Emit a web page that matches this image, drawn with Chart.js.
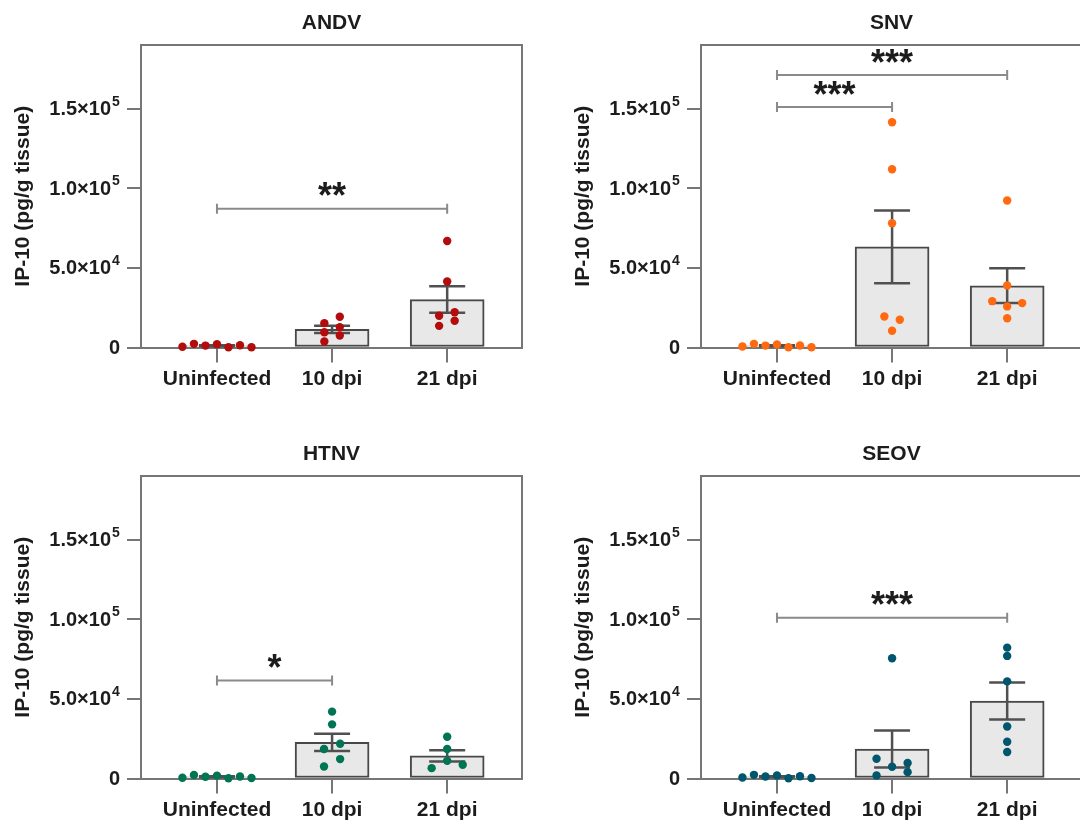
<!DOCTYPE html>
<html>
<head>
<meta charset="utf-8">
<script src="https://cdn.jsdelivr.net/npm/chart.js@4/dist/chart.umd.min.js"></script>
<style>
    html, body { margin: 0; padding: 0; background: #fff; width: 1080px; height: 820px; overflow: hidden; position: relative; }
    .panel { position: absolute; width: 560px; height: 431px; }
</style>
</head>
<body>
<div class="panel" style="left:0;top:0"><canvas id="andv" width="560" height="431"></canvas></div>
<div class="panel" style="left:560px;top:0"><canvas id="snv" width="560" height="431"></canvas></div>
<div class="panel" style="left:0;top:431px"><canvas id="htnv" width="560" height="431"></canvas></div>
<div class="panel" style="left:560px;top:431px"><canvas id="seov" width="560" height="431"></canvas></div>
<script>
// categories and axis ticks
const categories = ['Uninfected', '10 dpi', '21 dpi'];
const yTicks = [0, 50000, 100000, 150000];
const yTickBase = ['0', '5.0×10', '1.0×10', '1.5×10'];
const yTickExp = ['', '4', '5', '5'];
const yTitle = 'IP-10 (pg/g tissue)';

// horizontal spread of the dots (category units)
const uninfOffsets = [-0.3, -0.2, -0.1, 0, 0.1, 0.2, 0.3];

// ANDV
const andvMeans = [1100, 11400, 30100];
const andvSem = [300, 2300, 8300];
const andvUninf = [500, 2300, 1200, 2000, 200, 1400, 200];
const andvDpi10 = [15300, 19300, 12800, 9600, 7500, 3800];
const andvDpi10Off = [-0.067, 0.067, 0.067, -0.067, 0.067, -0.067];
const andvDpi21 = [66900, 41500, 19900, 22200, 16800, 13600];
const andvDpi21Off = [0, 0, -0.07, 0.065, 0.065, -0.07];

// SNV
const snvMeans = [1100, 63200, 38800];
const snvSem = [300, 22900, 10900];
const snvUninf = [600, 2300, 1200, 1900, 200, 1300, 200];
const snvDpi10 = [141500, 112000, 78000, 19500, 17400, 10500];
const snvDpi10Off = [0, 0, 0, -0.067, 0.067, 0];
const snvDpi21 = [92300, 39000, 29100, 27900, 25800, 18400];
const snvDpi21Off = [0, 0, -0.13, 0.13, 0, 0];

// HTNV
const htnvMeans = [1100, 22700, 14200];
const htnvSem = [300, 5400, 3600];
const htnvUninf = [500, 2200, 1100, 1800, 200, 1300, 300];
const htnvDpi10 = [42000, 34000, 21800, 18500, 12200, 7500];
const htnvDpi10Off = [0, 0, 0.07, -0.07, 0.07, -0.07];
const htnvDpi21 = [26200, 18500, 11100, 6500, 8600];
const htnvDpi21Off = [0, 0, 0, -0.135, 0.135];

// SEOV
const seovMeans = [1100, 18500, 48700];
const seovSem = [300, 11600, 11600];
const seovUninf = [600, 2300, 1300, 1900, 200, 1400, 300];
const seovDpi10 = [75500, 12400, 9700, 7400, 4000, 1900];
const seovDpi10Off = [0, -0.135, 0.135, 0, 0.135, -0.135];
const seovDpi21 = [82200, 77000, 61000, 32700, 23100, 16600];
const seovDpi21Off = [0, 0, 0, 0, 0, 0];

// significance brackets
const andvSig = [{ from: 0, to: 2, y: 87200, label: '**' }];
const snvSig = [{ from: 0, to: 1, y: 151000, label: '***' }, { from: 0, to: 2, y: 171100, label: '***' }];
const htnvSig = [{ from: 0, to: 1, y: 61500, label: '*' }];
const seovSig = [{ from: 0, to: 2, y: 100900, label: '***' }];

const FONT = "'Liberation Sans', Arial, Helvetica, sans-serif";
const AXIS = '#767676';
const INK = '#1c1c1c';

function toPoints(groups) {
    const pts = [];
    groups.forEach(g => g.values.forEach((v, i) => pts.push({ x: g.cat + g.off[i], y: v })));
    return pts;
}

const panelPlugin = {
    id: 'panelDecor',
    afterDatasetDraw(chart, args) {
        if (args.index !== 0) return;
        // error bars (mean ± SEM)
        const o = chart.config.options.plugins.panelDecor;
        const ctx = chart.ctx, xs = chart.scales.x, ys = chart.scales.y;
        ctx.save();
        ctx.strokeStyle = '#505050';
        ctx.lineWidth = 2.5;
        o.means.forEach((m, i) => {
            const x = xs.getPixelForValue(i);
            const yt = ys.getPixelForValue(m + o.sem[i]);
            const yb = ys.getPixelForValue(Math.max(0, m - o.sem[i]));
            ctx.beginPath();
            ctx.moveTo(x, yt); ctx.lineTo(x, yb);
            ctx.moveTo(x - 18, yt); ctx.lineTo(x + 18, yt);
            ctx.moveTo(x - 18, yb); ctx.lineTo(x + 18, yb);
            ctx.stroke();
        });
        ctx.restore();
    },
    afterDraw(chart) {
        const o = chart.config.options.plugins.panelDecor;
        const ctx = chart.ctx, xs = chart.scales.x, ys = chart.scales.y, a = chart.chartArea;
        ctx.save();
        // top and right frame lines
        ctx.strokeStyle = AXIS;
        ctx.lineWidth = 2;
        ctx.beginPath();
        ctx.moveTo(a.left, a.top); ctx.lineTo(a.right, a.top); ctx.lineTo(a.right, a.bottom);
        ctx.stroke();

        // title
        ctx.fillStyle = INK;
        ctx.font = 'bold 21px ' + FONT;
        ctx.textAlign = 'center';
        ctx.textBaseline = 'middle';
        ctx.fillText(o.title, (a.left + a.right) / 2, 23);

        // y tick labels with exponent
        yTicks.forEach((v, i) => {
            const y = ys.getPixelForValue(v);
            ctx.font = 'bold 20px ' + FONT;
            ctx.textBaseline = 'middle';
            if (yTickExp[i]) {
                ctx.textAlign = 'right';
                ctx.fillText(yTickBase[i], a.left - 30, y + 1);
                ctx.font = 'bold 14px ' + FONT;
                ctx.textAlign = 'left';
                ctx.fillText(yTickExp[i], a.left - 29, y - 7);
            } else {
                ctx.textAlign = 'right';
                ctx.fillText(yTickBase[i], a.left - 21, y + 1);
            }
        });

        // significance brackets
        o.sig.forEach(s => {
            const x1 = xs.getPixelForValue(s.from), x2 = xs.getPixelForValue(s.to);
            const y = ys.getPixelForValue(s.y);
            ctx.strokeStyle = '#8a8a8a';
            ctx.lineWidth = 2;
            ctx.beginPath();
            ctx.moveTo(x1, y); ctx.lineTo(x2, y);
            ctx.moveTo(x1, y - 5); ctx.lineTo(x1, y + 5);
            ctx.moveTo(x2, y - 5); ctx.lineTo(x2, y + 5);
            ctx.stroke();
            ctx.fillStyle = INK;
            ctx.font = 'bold 36px ' + FONT;
            ctx.textAlign = 'center';
            ctx.textBaseline = 'alphabetic';
            const n = s.label.length, gap = 14;
            const cx = (x1 + x2) / 2;
            for (let k = 0; k < n; k++) {
                ctx.fillText('*', cx + (k - (n - 1) / 2) * gap, y - 0.5);
            }
        });
        ctx.restore();
    }
};

function makePanel(id, title, color, means, sem, uninf, d10, d10Off, d21, d21Off, sig) {
    const bars = means.map((m, i) => ({ x: i, y: m }));
    const dots = toPoints([
        { cat: 0, values: uninf, off: uninfOffsets },
        { cat: 1, values: d10, off: d10Off },
        { cat: 2, values: d21, off: d21Off }
    ]);
    return new Chart(document.getElementById(id), {
        type: 'scatter',
        data: {
            datasets: [
                {
                    type: 'bar',
                    data: bars,
                    backgroundColor: '#e8e8e8',
                    borderColor: '#484848',
                    borderWidth: 2,
                    borderSkipped: false,
                    barThickness: 74,
                    order: 2,
                    clip: false
                },
                {
                    type: 'scatter',
                    data: dots,
                    backgroundColor: color,
                    borderWidth: 0,
                    pointRadius: 4.2,
                    order: 1,
                    clip: false
                }
            ]
        },
        options: {
            responsive: false,
            animation: false,
            devicePixelRatio: 1,
            layout: { padding: { top: 45, right: 38, left: 0, bottom: 0 } },
            plugins: {
                legend: { display: false },
                tooltip: { enabled: false },
                panelDecor: { title, means, sem, sig }
            },
            scales: {
                x: {
                    type: 'linear',
                    min: -0.66,
                    max: 2.65,
                    offset: false,
                    afterBuildTicks: s => { s.ticks = categories.map((c, i) => ({ value: i })); },
                    afterFit: s => { s.height = 83.5; },
                    ticks: {
                        callback: v => categories[v],
                        font: { family: FONT, size: 21, weight: 'bold' },
                        color: INK,
                        padding: 4,
                        maxRotation: 0,
                        autoSkip: false
                    },
                    grid: { drawOnChartArea: false, drawTicks: true, tickLength: 15, color: AXIS, lineWidth: 2, offset: false },
                    border: { color: AXIS, width: 2 }
                },
                y: {
                    type: 'linear',
                    min: 0,
                    max: 190000,
                    afterBuildTicks: s => { s.ticks = yTicks.map(v => ({ value: v })); },
                    afterFit: s => { s.width = 141; },
                    ticks: { display: false },
                    grid: { drawOnChartArea: false, drawTicks: true, tickLength: 14, color: AXIS, lineWidth: 2 },
                    border: { color: AXIS, width: 2 },
                    title: {
                        display: true,
                        text: yTitle,
                        color: INK,
                        font: { family: FONT, size: 21, weight: 'bold' },
                        padding: { top: 11, bottom: 0 }
                    }
                }
            }
        },
        plugins: [panelPlugin]
    });
}

makePanel('andv', 'ANDV', '#b20c0c', andvMeans, andvSem, andvUninf, andvDpi10, andvDpi10Off, andvDpi21, andvDpi21Off, andvSig);
makePanel('snv', 'SNV', '#ff6a10', snvMeans, snvSem, snvUninf, snvDpi10, snvDpi10Off, snvDpi21, snvDpi21Off, snvSig);
makePanel('htnv', 'HTNV', '#007553', htnvMeans, htnvSem, htnvUninf, htnvDpi10, htnvDpi10Off, htnvDpi21, htnvDpi21Off, htnvSig);
makePanel('seov', 'SEOV', '#00576d', seovMeans, seovSem, seovUninf, seovDpi10, seovDpi10Off, seovDpi21, seovDpi21Off, seovSig);
</script>
</body>
</html>
